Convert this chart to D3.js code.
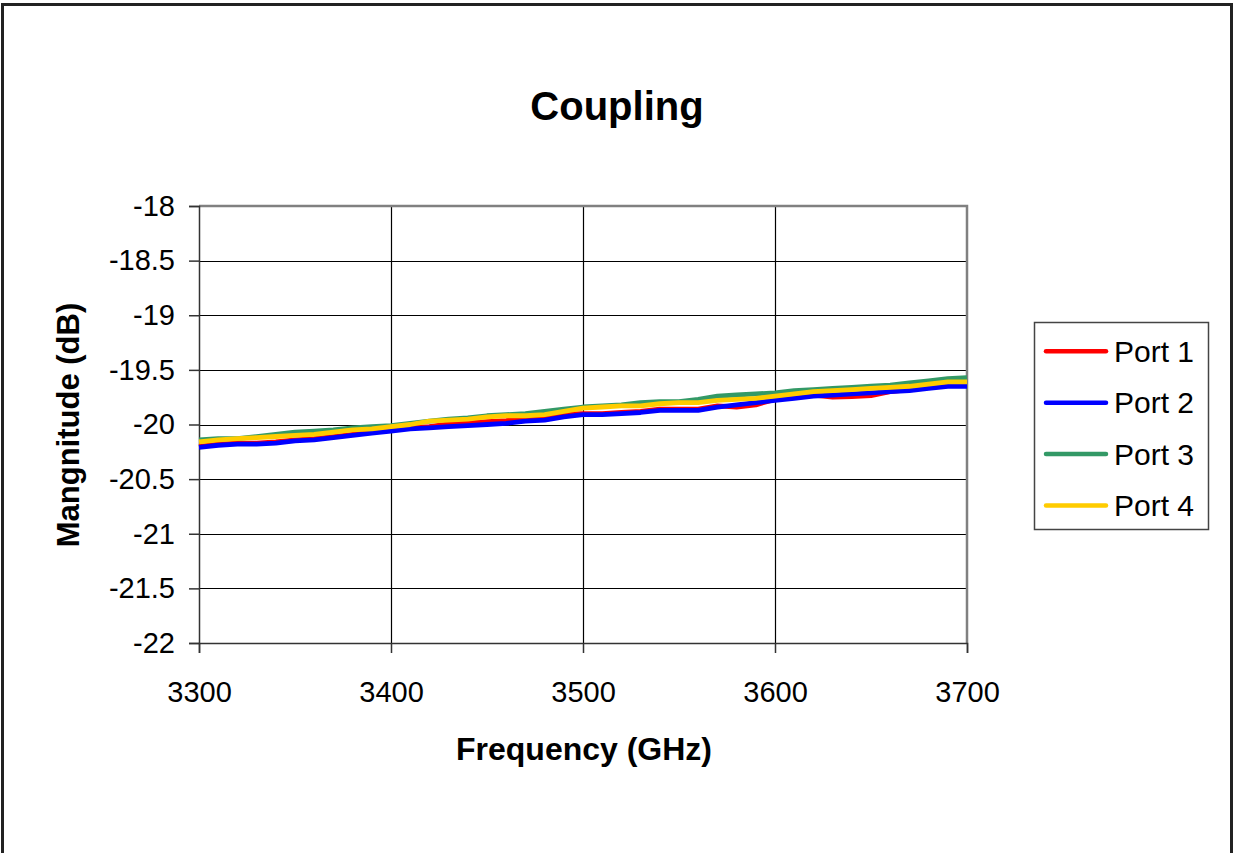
<!DOCTYPE html>
<html><head><meta charset="utf-8">
<script src="https://cdn.jsdelivr.net/npm/d3@7"></script>
<style>body{margin:0;background:#fff;}svg{display:block;font-family:"Liberation Sans",Arial,sans-serif;}</style>
</head><body><svg id="c" width="1234" height="853"></svg>
<script>
const freqs = d3.range(3300, 3701, 10);
const port1 = [-20.20,-20.18,-20.17,-20.17,-20.16,-20.14,-20.13,-20.11,-20.09,-20.07,-20.05,-20.03,-20.02,-19.995,-19.985,-19.975,-19.965,-19.945,-19.935,-19.905,-19.90,-19.90,-19.89,-19.88,-19.86,-19.86,-19.86,-19.83,-19.84,-19.82,-19.77,-19.75,-19.73,-19.75,-19.745,-19.735,-19.70,-19.68,-19.66,-19.64,-19.64];
const port2 = [-20.21,-20.19,-20.18,-20.18,-20.17,-20.15,-20.14,-20.12,-20.10,-20.08,-20.06,-20.04,-20.03,-20.02,-20.01,-20.00,-19.99,-19.97,-19.96,-19.93,-19.91,-19.91,-19.90,-19.89,-19.87,-19.87,-19.87,-19.84,-19.82,-19.80,-19.78,-19.76,-19.74,-19.73,-19.72,-19.71,-19.70,-19.69,-19.67,-19.65,-19.65];
const port3 = [-20.14,-20.13,-20.13,-20.11,-20.09,-20.07,-20.06,-20.05,-20.03,-20.02,-20.01,-19.99,-19.97,-19.95,-19.94,-19.92,-19.91,-19.90,-19.88,-19.86,-19.84,-19.83,-19.82,-19.80,-19.79,-19.79,-19.77,-19.74,-19.73,-19.72,-19.71,-19.69,-19.68,-19.67,-19.66,-19.65,-19.64,-19.62,-19.60,-19.58,-19.57];
const port4 = [-20.16,-20.14,-20.13,-20.12,-20.11,-20.10,-20.09,-20.07,-20.05,-20.04,-20.02,-20.00,-19.97,-19.96,-19.95,-19.93,-19.92,-19.92,-19.91,-19.88,-19.85,-19.84,-19.83,-19.83,-19.81,-19.80,-19.80,-19.78,-19.77,-19.76,-19.74,-19.72,-19.70,-19.69,-19.68,-19.67,-19.66,-19.65,-19.63,-19.61,-19.61];
const seriesNames = ["Port 1","Port 2","Port 3","Port 4"];
const seriesColors = ["#ff0000","#0000ff","#339966","#ffcc00"];
const xTicks = [3300,3400,3500,3600,3700];
const yTicks = [-18,-18.5,-19,-19.5,-20,-20.5,-21,-21.5,-22];
const title = "Coupling", xTitle = "Frequency (GHz)", yTitle = "Mangnitude (dB)";

const svg = d3.select("#c");
svg.append("rect").attr("x",2.5).attr("y",4.5).attr("width",1229).attr("height",860)
  .attr("fill","none").attr("stroke","#222").attr("stroke-width",3);

const L=199, R=967, T=206, B=643;
const x = d3.scaleLinear().domain([3300,3700]).range([L,R]);
const y = d3.scaleLinear().domain([-22,-18]).range([B,T]);

svg.append("g").selectAll("line").data(yTicks.slice(1,-1)).join("line")
  .attr("x1",L).attr("x2",R).attr("y1",d=>Math.round(y(d))+0.5).attr("y2",d=>Math.round(y(d))+0.5)
  .attr("stroke","#000").attr("stroke-width",1.2);
svg.append("g").selectAll("line").data(xTicks.slice(1,-1)).join("line")
  .attr("y1",T).attr("y2",B).attr("x1",d=>Math.round(x(d))+0.5).attr("x2",d=>Math.round(x(d))+0.5)
  .attr("stroke","#000").attr("stroke-width",1.2);
svg.append("path").attr("d",`M${L},${T}H${R}V${B}`).attr("fill","none").attr("stroke","#808080").attr("stroke-width",2.5);

const yAxis = d3.axisLeft(y).tickValues(yTicks).tickSize(10).tickPadding(14).tickFormat(d=>String(d));
const gy = svg.append("g").attr("transform",`translate(${L},0)`).call(yAxis);
gy.attr("font-size",null).attr("font-family",null);
gy.select(".domain").attr("stroke","#333").attr("stroke-width",1.5);
gy.selectAll(".tick line").attr("stroke","#333").attr("stroke-width",1.5);
gy.selectAll("text").style("font-size","29px").attr("fill","#000");

const xAxis = d3.axisBottom(x).tickValues(xTicks).tickSize(10).tickPadding(28).tickFormat(d3.format("d"));
const gx = svg.append("g").attr("transform",`translate(0,${B})`).call(xAxis);
gx.attr("font-size",null).attr("font-family",null);
gx.select(".domain").attr("stroke","#333").attr("stroke-width",1.5);
gx.selectAll(".tick line").attr("stroke","#333").attr("stroke-width",1.5);
gx.selectAll("text").style("font-size","29px").attr("fill","#000");

const allSeries = [port1,port2,port3,port4];
const line = d3.line().x((d,i)=>x(freqs[i])).y(d=>y(d));
svg.append("g").selectAll("path").data(allSeries).join("path")
  .attr("d",d=>line(d)).attr("fill","none")
  .attr("stroke",(d,i)=>seriesColors[i]).attr("stroke-width",4.8).attr("stroke-linejoin","round");

svg.append("text").attr("x",617).attr("y",120).attr("text-anchor","middle")
  .style("font-size","40px").attr("font-weight","bold").text(title);
svg.append("text").attr("x",584).attr("y",760).attr("text-anchor","middle")
  .style("font-size","32px").attr("font-weight","bold").text(xTitle);
svg.append("text").attr("transform",`translate(79,425) rotate(-90)`).attr("text-anchor","middle")
  .style("font-size","31px").attr("font-weight","bold").text(yTitle);

const lg = svg.append("g");
lg.append("rect").attr("x",1034.5).attr("y",322.5).attr("width",174).attr("height",207)
  .attr("fill","#fff").attr("stroke","#444").attr("stroke-width",1.5);
const rows = lg.selectAll("g").data(seriesNames).join("g")
  .attr("transform",(d,i)=>`translate(0,${351.3+i*51.4})`);
rows.append("line").attr("x1",1046).attr("x2",1106).attr("y1",0).attr("y2",0)
  .attr("stroke",(d,i)=>seriesColors[i]).attr("stroke-width",4.5).attr("stroke-linecap","round");
rows.append("text").attr("x",1114).attr("y",10.5).style("font-size","30px").text(d=>d);
</script></body></html>
